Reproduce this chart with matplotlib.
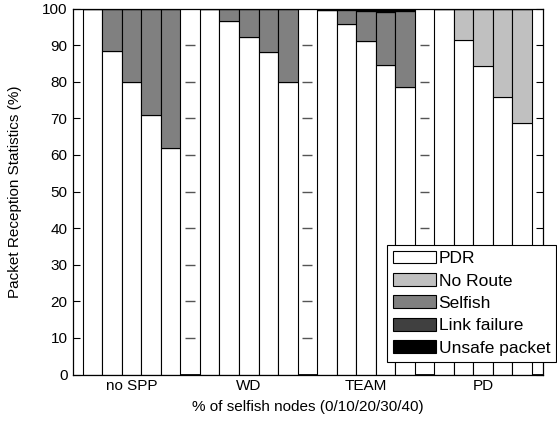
import matplotlib.pyplot as plt
import numpy as np

plt.rcParams['font.family'] = ['Liberation Sans', 'DejaVu Sans']
plt.rcParams['font.size'] = 11

groups = ['no SPP', 'WD', 'TEAM', 'PD']
selfish_pct = [0, 10, 20, 30, 40]

# one value per bar: 4 groups x 5 selfish levels
pdr = [100, 88.3, 80.0, 71.0, 62.0,
       100, 96.6, 92.1, 88.0, 79.9,
       99.6, 95.7, 91.0, 84.5, 78.6,
       100, 91.3, 84.2, 75.9, 68.8]
no_route = [0, 0, 0, 0, 0,
            0, 0, 0, 0, 0,
            0, 0, 0, 0, 0,
            0, 8.7, 15.8, 24.1, 31.2]
selfish = [0, 11.7, 20.0, 29.0, 38.0,
           0, 3.4, 7.9, 12.0, 20.1,
           0, 3.8, 8.2, 14.6, 20.6,
           0, 0, 0, 0, 0]
link_failure = [0] * 20
unsafe = [0, 0, 0, 0, 0,
          0, 0, 0, 0, 0,
          0.4, 0.5, 0.8, 0.9, 0.8,
          0, 0, 0, 0, 0]

layers = [('PDR', pdr, 'white'),
          ('No Route', no_route, '#c0c0c0'),
          ('Selfish', selfish, '#808080'),
          ('Link failure', link_failure, '#404040'),
          ('Unsafe packet', unsafe, 'black')]

n = len(selfish_pct)
slot = n + 1
x = np.array([g * slot + j for g in range(len(groups)) for j in range(n)])
gaps = np.array([g * slot + n for g in range(len(groups))])

fig = plt.figure(figsize=(5.57, 4.28), dpi=100)
ax = fig.add_axes([0.131, 0.125, 0.844, 0.855])

bottom = np.zeros(len(x))
for name, vals, col in layers:
    vals = np.array(vals, dtype=float)
    ax.bar(x, vals, width=1.0, bottom=bottom, color=col, edgecolor='black',
           linewidth=0.8, label=name)
    bottom += vals

# empty bars in the gaps between groups
ax.bar(gaps, np.zeros(len(gaps)), width=1.0, color='white', edgecolor='black', linewidth=2.0)
# tick dashes seen inside the gaps
for gx in gaps[:3]:
    ax.hlines(np.arange(10, 100, 10), gx - 0.25, gx + 0.25, colors='#555555', linewidth=1.0)

ax.set_xlim(-1.0, 23.07)
ax.set_ylim(0, 100)
ax.set_yticks(np.arange(0, 101, 10))
ax.set_xticks([g * slot + (n - 1) / 2 for g in range(len(groups))])
ax.set_xticklabels(groups)
ax.tick_params(axis='x', length=0, pad=3)
ax.tick_params(axis='y', direction='in', length=5, right=True, width=0.8, pad=4)
for s in ax.spines.values():
    s.set_linewidth(0.9)

ax.set_ylabel('Packet Reception Statistics (%)', labelpad=14)
ax.set_xlabel('% of selfish nodes (0/10/20/30/40)', labelpad=5)

leg = ax.legend(loc='lower left', bbox_to_anchor=(0.668, 0.035), fancybox=False,
                edgecolor='black', framealpha=1, fontsize=12.5, handlelength=2.5,
                handleheight=0.75, labelspacing=0.4, handletextpad=0.12,
                borderpad=0.35, borderaxespad=0)
leg.get_frame().set_linewidth(0.8)

fig.savefig('out.png', dpi=100)
